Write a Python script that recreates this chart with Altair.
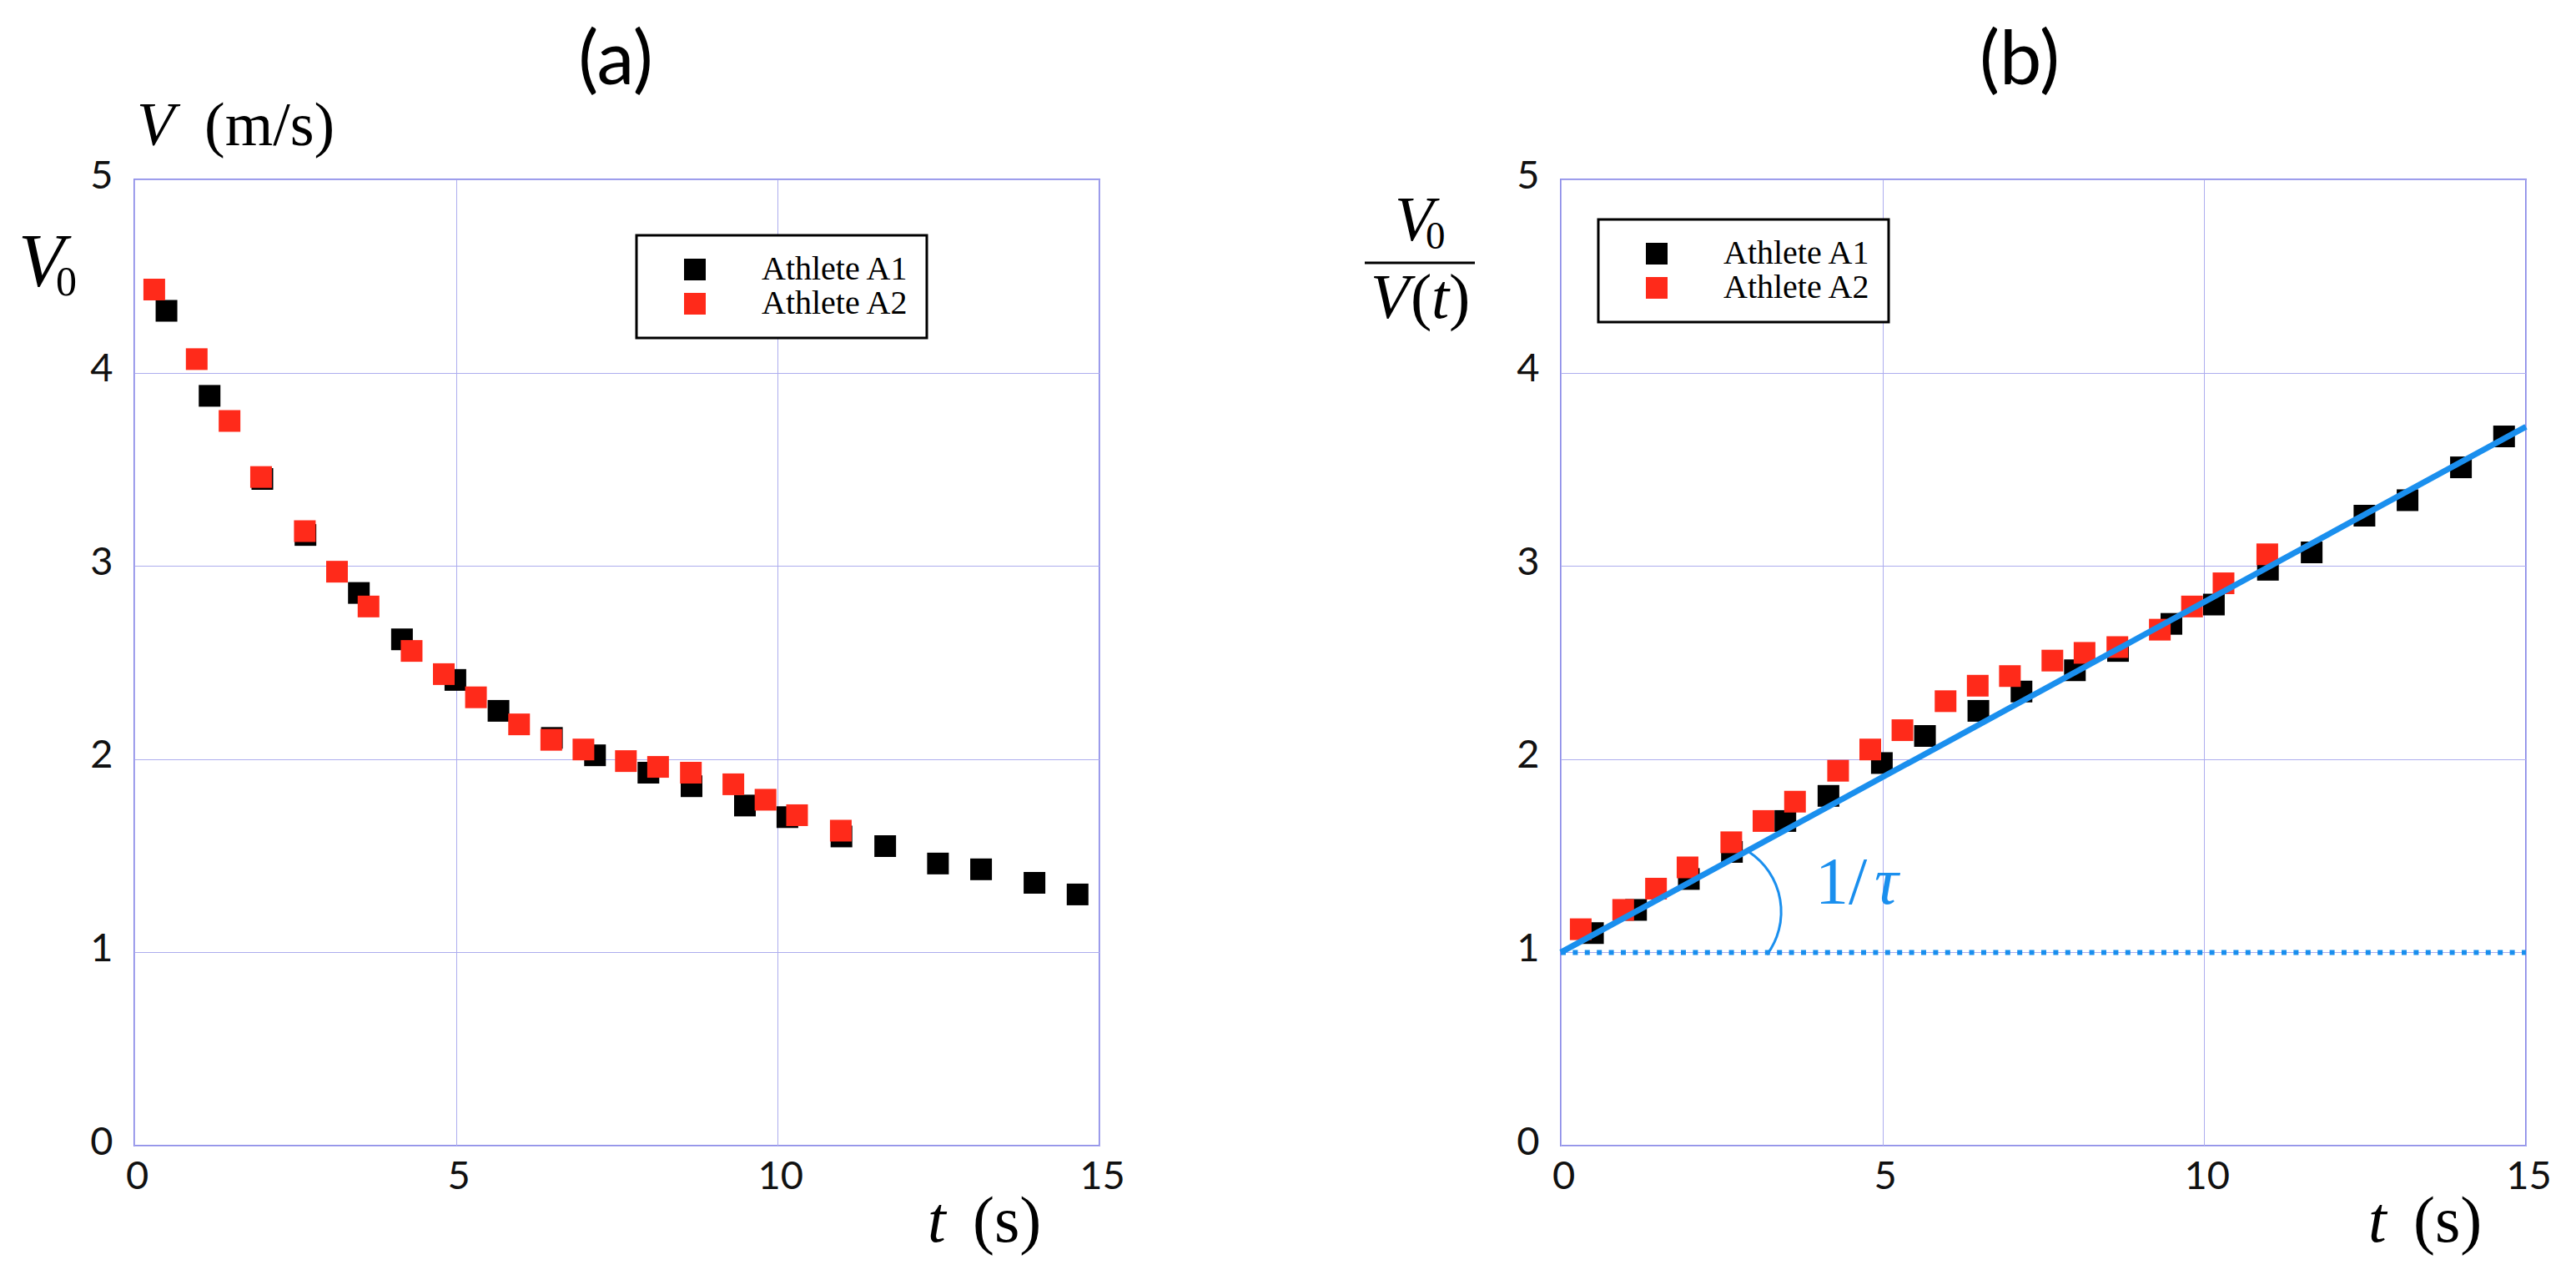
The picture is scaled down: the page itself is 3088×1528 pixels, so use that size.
import altair as alt
import pandas as pd

names = ["Athlete A1", "Athlete A2"]
colors = ["#000000", "#ff2a1a"]

# sampling times (s) of the two athletes
a1_t = [0.50, 1.17, 1.99, 2.66, 3.49, 4.16, 4.99, 5.66, 6.49, 7.16,
        7.99, 8.66, 9.49, 10.15, 10.99, 11.67, 12.49, 13.16, 13.99, 14.66]
a2_t = [0.31, 0.97, 1.48, 1.97, 2.65, 3.15, 3.64, 4.31, 4.81, 5.31,
        5.98, 6.48, 6.98, 7.64, 8.14, 8.65, 9.31, 9.81, 10.30, 10.98]

# panel (a): V (m/s)
a1_v = [4.32, 3.88, 3.45, 3.16, 2.86, 2.62, 2.41, 2.25, 2.11, 2.02,
        1.93, 1.86, 1.76, 1.70, 1.60, 1.55, 1.46, 1.43, 1.36, 1.30]
a2_v = [4.43, 4.07, 3.75, 3.46, 3.18, 2.97, 2.79, 2.56, 2.44, 2.32,
        2.18, 2.10, 2.05, 1.99, 1.96, 1.93, 1.87, 1.79, 1.71, 1.63]

# panel (b): V0 / V(t)
a1_r = [1.10, 1.22, 1.38, 1.52, 1.68, 1.81, 1.98, 2.12, 2.25, 2.35,
        2.46, 2.56, 2.70, 2.80, 2.98, 3.07, 3.26, 3.34, 3.51, 3.67]
a2_r = [1.12, 1.22, 1.33, 1.44, 1.57, 1.68, 1.78, 1.94, 2.05, 2.15,
        2.30, 2.38, 2.43, 2.51, 2.55, 2.58, 2.67, 2.79, 2.91, 3.06]

# linear fit and the baseline V0/V = 1
fit_t = [0, 15]
fit_r = [1.0, 3.72]
base_r = [1.0, 1.0]

# centre of the angle arc (data units)
arc_t = [2.31]
arc_r = [1.21]

W, H = 1157, 1158
SERIF = "Liberation Serif"
SANS = "Lato"
BLUE = "#1a8fee"
GRID = "#adadee"


def points(t1, y1, t2, y2):
    return pd.DataFrame({
        "t": t1 + t2,
        "y": y1 + y2,
        "athlete": [names[0]] * len(t1) + [names[1]] * len(t2),
    })


x_enc = alt.X("t:Q", scale=alt.Scale(domain=[0, 15], nice=False, zero=False),
              axis=alt.Axis(values=[0, 5, 10, 15], title=None, grid=True, ticks=False,
                            domain=False, labelFont=SANS, labelFontSize=47,
                            labelColor="#111111", labelPadding=14, labelFlush=False,
                            labelOverlap=False, labelOffset=3,
                            gridColor=GRID, gridWidth=1))
y_enc = alt.Y("y:Q", scale=alt.Scale(domain=[0, 5], nice=False),
              axis=alt.Axis(values=[0, 1, 2, 3, 4, 5], title=None, grid=True, ticks=False,
                            domain=False, labelFont=SANS, labelFontSize=47,
                            labelColor="#111111", labelPadding=26, labelOverlap=False,
                            labelOffset=-4, gridColor=GRID, gridWidth=1))


def scatter(df, lx, ly):
    return alt.Chart(df).mark_point(shape="square", filled=True, size=676, opacity=1).encode(
        x=x_enc,
        y=y_enc,
        color=alt.Color(
            "athlete:N",
            scale=alt.Scale(domain=names, range=colors),
            legend=alt.Legend(
                title=None, orient="none", legendX=lx, legendY=ly,
                fillColor="white", strokeColor="black", padding=21,
                symbolType="square", symbolSize=676, symbolOffset=29,
                symbolStrokeWidth=0, labelOffset=60, rowPadding=1,
                labelFont=SERIF, labelFontSize=40, labelColor="black",
                labelLimit=500,
                labelExpr="datum.label + '\u00a0\u00a0\u00a0\u00a0\u00a0\u00a0'",
            ),
        ),
    )


def label(text, x, y, size, italic=False, color="black", font=SERIF, align="left"):
    kw = dict(text=text, font=font, fontSize=size, align=align,
              baseline="alphabetic", color=color)
    if italic:
        kw["fontStyle"] = "italic"
    return alt.Chart(alt.Data(values=[{}])).mark_text(**kw).encode(
        x=alt.value(x), y=alt.value(y)
    )


# (a) speed against time
left = alt.layer(
    scatter(points(a1_t, a1_v, a2_t, a2_v), 602, 67),
    label("(a)", 577, -114, 90, font=SANS, align="center"),
    label("V", 3, -41, 74, italic=True),
    label("(m/s)", 84, -41, 74),
    label("V", -139, 128, 90, italic=True),
    label("0", -94, 139, 50),
    label("t", 951, 1273, 78, italic=True),
    label("(s)", 1005, 1273, 78),
).properties(width=W, height=H)

# (b) V0 / V(t) with the linear fit
fit = alt.Chart(pd.DataFrame({"t": fit_t, "y": fit_r})).mark_line(
    color=BLUE, strokeWidth=7
).encode(x=x_enc, y=y_enc)

base = alt.Chart(pd.DataFrame({"t": fit_t, "y": base_r})).mark_line(
    color=BLUE, strokeWidth=6, strokeDash=[6, 8.4], strokeCap="butt"
).encode(x=x_enc, y=y_enc)

arc = alt.Chart(pd.DataFrame({"t": arc_t, "y": arc_r})).mark_arc(
    filled=False, color=BLUE, strokeWidth=3, radius=86, radius2=86,
    theta=0.59, theta2=2.21
).encode(x=x_enc, y=y_enc)

bar = alt.Chart(alt.Data(values=[{}])).mark_rule(color="black", strokeWidth=3).encode(
    x=alt.value(-235), x2=alt.value(-103), y=alt.value(100)
)

right = alt.layer(
    scatter(points(a1_t, a1_r, a2_t, a2_r), 45, 48),
    fit,
    base,
    arc,
    label("(b)", 550, -114, 90, font=SANS, align="center"),
    label("V", -199, 73, 76, italic=True),
    label("0", -162, 83, 47),
    bar,
    label("V", -228, 166, 76, italic=True),
    label("(", -180, 166, 76),
    label("t", -155, 166, 76, italic=True),
    label(")", -134, 166, 76),
    label("t", 968, 1273, 78, italic=True),
    label("(s)", 1022, 1273, 78),
    label("1/", 305, 868, 80, color=BLUE),
    label("τ", 376, 868, 80, italic=True, color=BLUE),
).properties(width=W, height=H)

chart = (
    alt.hconcat(left, right, spacing=553, bounds="flush")
    .resolve_scale(color="independent")
    .resolve_legend(color="independent")
    .properties(padding={"left": 13, "top": 20, "right": 20, "bottom": 10},
                background="white")
    .configure_view(stroke="#8a8ae8", strokeWidth=2)
    .configure_legend(strokeWidth=3)
)

chart.save("out.html", embed_options={"renderer": "svg", "actions": False})
